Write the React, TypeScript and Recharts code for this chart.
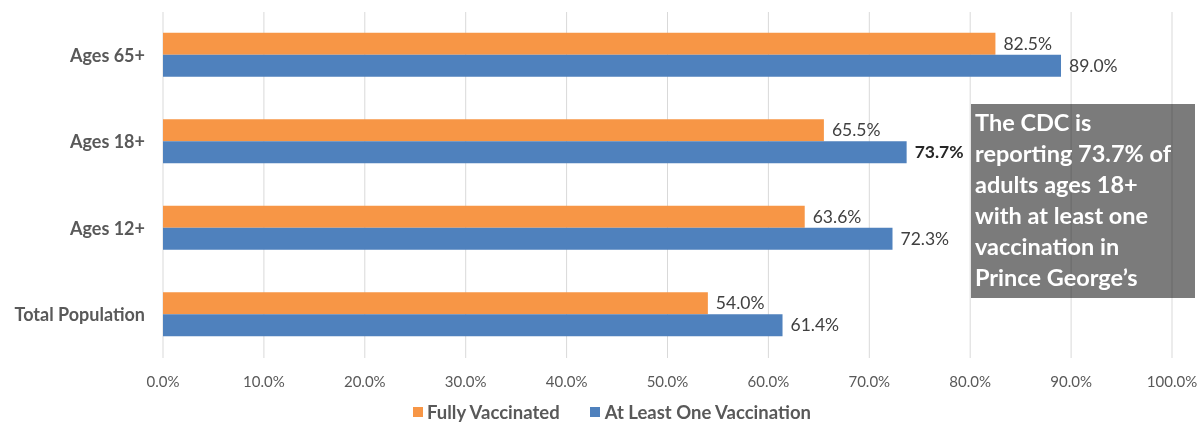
// Prince George's vaccination coverage - horizontal bars

import { BarChart, Bar, XAxis, YAxis, CartesianGrid, Legend, LabelList } from 'recharts';

const categories = ["Ages 65+", "Ages 18+", "Ages 12+", "Total Population"];
const fullyVaccinated = [82.5, 65.5, 63.6, 54.0];
const atLeastOne = [89.0, 73.7, 72.3, 61.4];
const xTicks = [0, 10, 20, 30, 40, 50, 60, 70, 80, 90, 100];
const highlightCategory = "Ages 18+";
const noteLines = [
  "The CDC is",
  "reporting 73.7% of",
  "adults ages 18+",
  "with at least one",
  "vaccination in",
  "Prince George\u2019s",
];

const ORANGE = "#F79646";
const BLUE = "#4F81BD";
const FONT = "Lato, 'Open Sans', sans-serif";

const data = categories.map((c, i) => ({
  category: c,
  fully: fullyVaccinated[i],
  oneDose: atLeastOne[i],
}));

const makeLabel = (bold: boolean) => (props: any) => {
  const { x, y, width, height, value, index } = props;
  const strong = bold && data[index].category === highlightCategory;
  return (
    <text
      x={Number(x) + Number(width) + 8}
      y={Number(y) + Number(height) / 2}
      dy="0.35em"
      fontSize={17.5}
      fontFamily={FONT}
      fontWeight={strong ? 700 : 400}
      fill={strong ? "#262626" : "#404040"}
    >
      {Number(value).toFixed(1)}%
    </text>
  );
};

const renderLegend = () => (
  <div style={{ display: "flex", alignItems: "center", paddingLeft: 413, paddingTop: 8, fontFamily: FONT, fontWeight: 700, fontSize: 18.5, color: "#595959" }}>
    <span style={{ width: 10, height: 10, background: ORANGE, display: "inline-block", marginRight: 4 }} />
    <span style={{ marginRight: 30 }}>Fully Vaccinated</span>
    <span style={{ width: 10, height: 10, background: BLUE, display: "inline-block", marginRight: 5 }} />
    <span>At Least One Vaccination</span>
  </div>
);

export default function App() {
  return (
    <div style={{ position: "absolute", left: 0, top: 0, width: 1198, height: 423, background: "#fff" }}>
      <BarChart
        width={1198}
        height={423}
        data={data}
        layout="vertical"
        margin={{ top: 12, right: 26, left: 0, bottom: 0 }}
        barCategoryGap="24%"
        barGap={0}
      >
        <CartesianGrid horizontal={false} stroke="#d9d9d9" />
        <XAxis
          type="number"
          domain={[0, 100]}
          ticks={xTicks}
          tickFormatter={(v: number) => `${v.toFixed(1)}%`}
          axisLine={false}
          tickLine={false}
          tickSize={0}
          tickMargin={18}
          height={35}
          tick={{ fontSize: 15, fill: "#595959", fontFamily: FONT }}
          interval={0}
        />
        <YAxis
          type="category"
          dataKey="category"
          width={163}
          axisLine={false}
          tickLine={false}
          tickSize={0}
          tickMargin={18}
          tick={{ fontSize: 18, fill: "#595959", fontFamily: FONT, fontWeight: 700 }}
        />
        <Legend verticalAlign="bottom" height={30} content={renderLegend} wrapperStyle={{ left: 0, width: 1198 }} />
        <Bar dataKey="fully" name="Fully Vaccinated" fill={ORANGE} isAnimationActive={false}>
          <LabelList dataKey="fully" content={makeLabel(false)} />
        </Bar>
        <Bar dataKey="oneDose" name="At Least One Vaccination" fill={BLUE} isAnimationActive={false}>
          <LabelList dataKey="oneDose" content={makeLabel(true)} />
        </Bar>
      </BarChart>
      <div style={{ position: "absolute", left: 971, top: 104, width: 224, height: 194, background: "#7b7b7b", mixBlendMode: "multiply" }} />
      <div style={{ position: "absolute", left: 975, top: 107, width: 220, color: "#fff", fontFamily: FONT, fontWeight: 700, fontSize: 23.5, lineHeight: "31px" }}>
        {noteLines.map((l) => (
          <div key={l}>{l}</div>
        ))}
      </div>
    </div>
  );
}
